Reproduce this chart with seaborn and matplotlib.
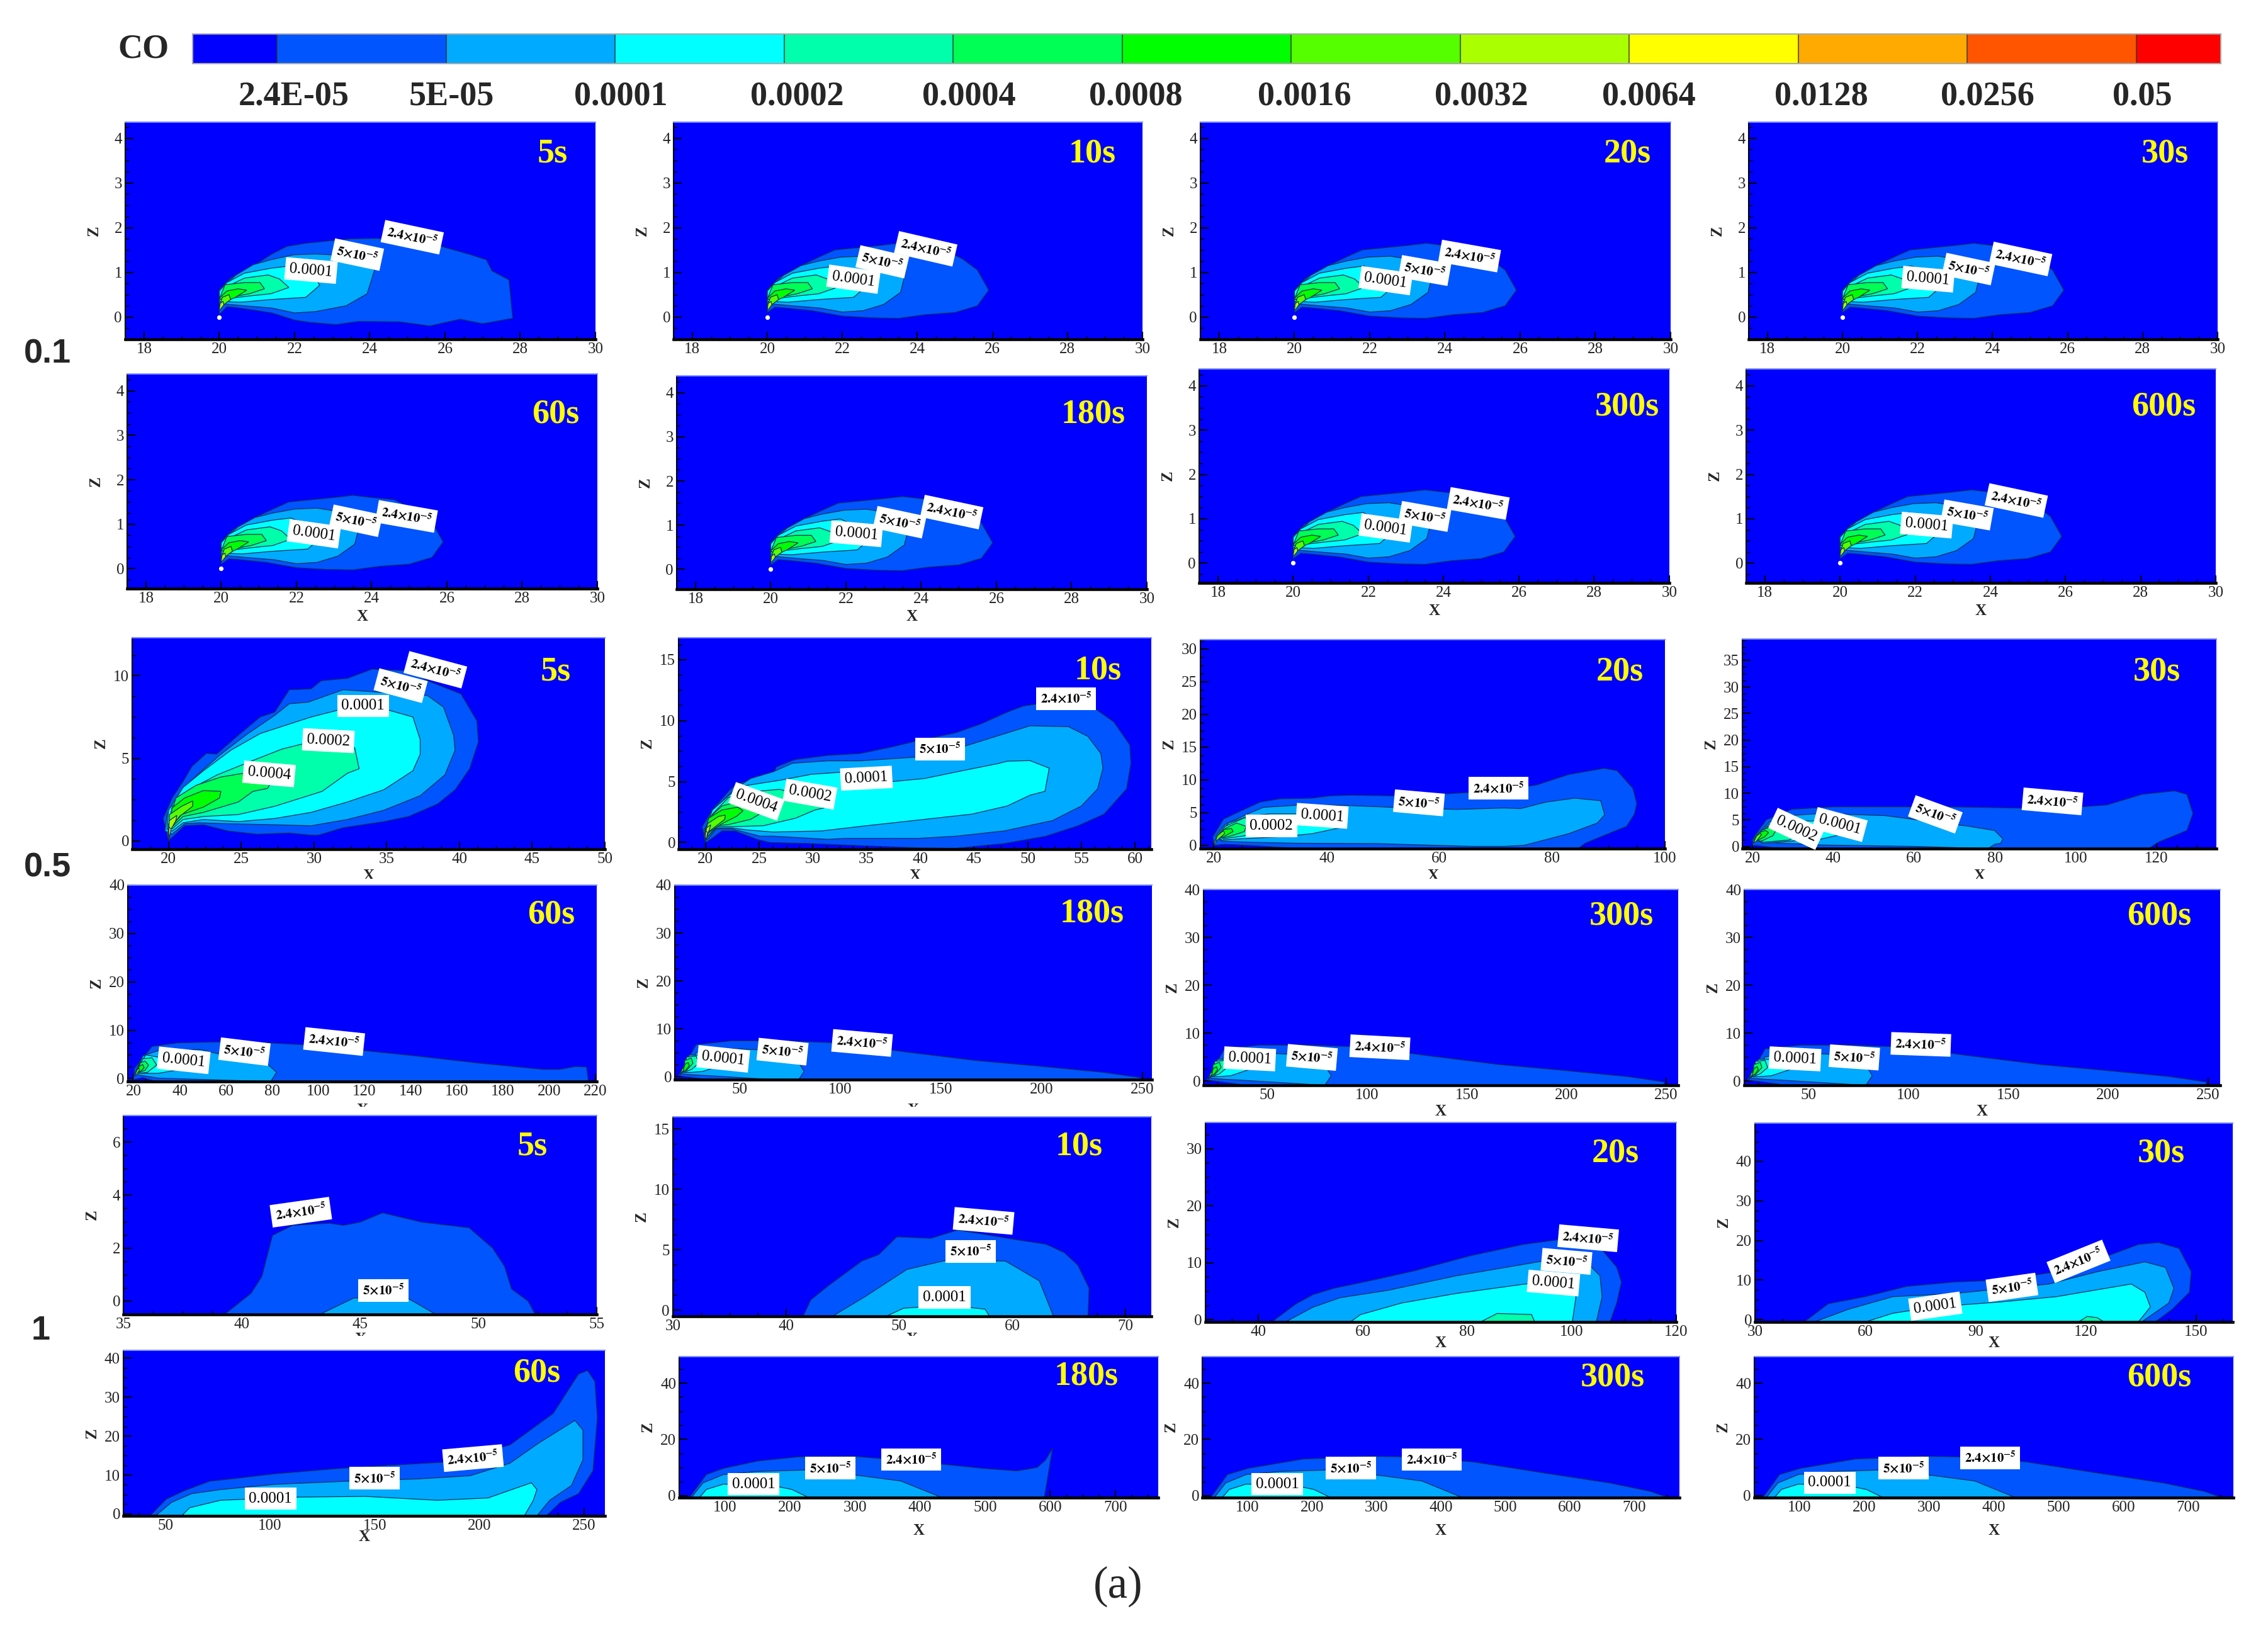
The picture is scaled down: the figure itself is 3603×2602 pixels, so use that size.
import numpy as np
import matplotlib

matplotlib.use("Agg")
import matplotlib.pyplot as plt
from matplotlib.colors import ListedColormap
from matplotlib.ticker import AutoMinorLocator
from matplotlib.transforms import Bbox
import seaborn as sns

# contour levels and colour bar
CO_COLORS = ["#0000ff", "#0055ff", "#00aaff", "#00ffff", "#00ffaa", "#00ff55", "#00ff00",
             "#55ff00", "#aaff00", "#ffff00", "#ffaa00", "#ff5500", "#ff0000"]
CO_CELLS = [0, 1, 1, 2, 2, 3, 3, 4, 4, 5, 5, 6, 6, 7, 7, 8, 8, 9, 9, 10, 10, 11, 11, 12]
CO_LABELS = ["2.4E-05", "5E-05", "0.0001", "0.0002", "0.0004", "0.0008", "0.0016",
             "0.0032", "0.0064", "0.0128", "0.0256", "0.05"]
TIMES = ["5s", "10s", "20s", "30s", "60s", "180s", "300s", "600s"]
ROW_NAMES = ["0.1", "0.5", "1"]

# wind 0.1, near field, shared by both rows
R1_100 = [(20, .35), (20, .58), (20.2, .77), (20.67, .98), (21.37, 1.09), (21.85, 1.14), (22.55, .87),
          (22.67, .71), (22.3, .44), (21.37, .39), (20.55, .33)]
R1_200 = [(20, .39), (20.15, .66), (20.67, .87), (21.3, .94), (21.6, .85), (21.85, .66), (21.37, .52),
          (20.8, .47), (20.3, .42)]
R1_400 = [(20, .4), (20.15, .72), (20.67, .77), (21.08, .77), (21.2, .63), (20.8, .52), (20.3, .44)]
R1_800 = [(20, .42), (20.2, .58), (20.5, .63), (20.73, .6), (20.43, .44), (20.14, .33)]
R1_1600 = [(20, .23), (20.08, .44), (20.26, .5), (20.3, .39), (20.08, .25)]
R1_3200 = [(20, .15), (20.02, .3), (20.1, .35), (20.12, .27), (20.03, .17)]

P1_24 = [(20, .12), (20, .6), (20.3, .87), (20.9, 1.14), (21.4, 1.41), (21.8, 1.58), (22.3, 1.65), (23, 1.71),
         (23.5, 1.75), (24.2, 1.76), (25.6, 1.65), (26.7, 1.39), (27.1, 1.28), (27.25, 1.03), (27.7, .83),
         (27.8, -.03), (27, -.15), (26.4, -.05), (25.6, -.2), (24.8, -.11), (23.7, -.1), (23.1, -.17),
         (22.4, -.12), (22, -.07), (21.4, .09), (20.55, .2), (20.2, .23), (20, .06)]
P1_50 = [(20, .3), (20, .6), (20.43, .93), (20.9, 1.17), (21.37, 1.28), (21.96, 1.39), (22.55, 1.41), (23, 1.39),
         (24.13, 1.06), (23.93, .52), (23.37, .25), (22.55, .12), (22, .09), (21.4, .2), (20.67, .25)]
R1B_24 = [(20, .1), (20, .6), (20.3, .87), (20.9, 1.15), (21.4, 1.35), (21.8, 1.5), (22.4, 1.55), (23, 1.6),
          (23.5, 1.65), (24, 1.6), (24.6, 1.55), (25.2, 1.3), (25.6, 1.05), (25.9, .6), (25.6, .25), (25, .1),
          (24.2, .05), (23.5, -.03), (22.8, -.02), (22, .02), (21.2, .14), (20.5, .2), (20.2, .22)]
R1B_50 = [(20, .3), (20, .6), (20.43, .93), (20.9, 1.15), (21.37, 1.25), (21.96, 1.34), (22.55, 1.36), (23, 1.3),
          (23.7, 1.05), (23.55, .55), (23.1, .28), (22.55, .14), (22, .11), (21.4, .2), (20.67, .25)]

# wind 0.5, 5 s
P9_24 = [(20, .04), (19.63, 1.36), (20.25, 2.6), (21, 3.6), (21.6, 4.5), (22.6, 5.3), (23.3, 5.25), (24.8, 6.4),
         (26.3, 7.5), (27.3, 7.8), (28.3, 9.15), (29.8, 9.2), (30.5, 9.7), (32.3, 9.84), (34, 10.4), (36.5, 10.3),
         (37.8, 9.7), (40.1, 8.9), (41.2, 7.26), (41.3, 6), (40.7, 4.37), (39.7, 3.1), (38.5, 2.24), (36.5, 1.48),
         (34.8, 1.17), (32, .8), (30.3, .35), (29.8, .35), (28.3, .48), (26.1, .41), (24.1, .6), (22.4, .98),
         (21.1, .92), (20.25, .22)]
P9_50 = [(19.75, .6), (19.9, 1.6), (20.9, 3.1), (22.1, 4.1), (23.6, 5.25), (25.3, 6.4), (27.3, 7.6), (28.3, 8.3),
         (29.6, 8.4), (32, 9.15), (34.5, 9), (37.8, 8.8), (38.9, 8.1), (39.6, 6.4), (39.7, 5.5), (39, 4), (37.3, 2.74),
         (34.8, 1.86), (32.3, 1.3), (29.8, .92), (27.3, .98), (24.1, 1.04), (22.1, 1.1), (21.1, 1.04), (20.25, .41)]
P9_100 = [(19.9, .73), (20, 1.86), (21, 3.24), (22.4, 4.25), (24.3, 5.5), (26.3, 6.5), (29.8, 7.5), (31.8, 7.95),
          (34.8, 8), (36.8, 7.5), (37.3, 6.13), (37.3, 5.25), (36.8, 4.25), (34.8, 3.1), (32.3, 2.36), (29.8, 1.73),
          (27.3, 1.36), (24.8, 1.17), (22.4, 1.3), (21, 1.1), (20.25, .6)]
P9_200 = [(20, .85), (20.25, 2.1), (21.4, 3.1), (23.35, 4), (25.8, 4.87), (27.8, 5.56), (29.8, 6), (32.8, 5.63),
          (33.1, 4.37), (32.3, 4.1), (30.55, 3), (27.3, 2.1), (24.8, 1.6), (22.4, 1.48), (21, 1.3), (20.25, .73)]
P9_400 = [(20, .98), (20.5, 2.6), (21.9, 3.37), (23.6, 3.87), (25.3, 4.12), (27.1, 3.6), (26.8, 3.18), (25.8, 3),
          (24.8, 2.36), (22.4, 1.73), (21, 1.48), (20.25, .85)]
P9_800 = [(20, .73), (20.25, 2), (21.1, 2.6), (22.4, 3.05), (23.6, 3), (23.5, 2.6), (22.4, 2.05), (20.9, 1.6), (20.25, .92)]
P9_1600 = [(20, .6), (20.07, 1.6), (20.9, 2.1), (21.66, 2.42), (21.66, 2.1), (20.75, 1.48), (20.2, .85)]
P9_3200 = [(20, .41), (20.05, 1.23), (20.57, 1.55), (20.5, 1.23), (20.1, .6)]
P9_6400 = [(20, .23), (20.03, .85), (20.17, .73), (20.07, .29)]
P9_12800 = [(20, .1), (20.02, .4), (20.08, .3), (20.04, .08)]

# wind 0.5, 10 s
P10_24 = [(20, 0), (19.7, 1.3), (20.65, 2.67), (22.15, 4.2), (22.9, 4.8), (24.8, 5.25), (26.3, 5.6), (26.6, 6.2),
          (28.3, 6.8), (31.4, 7.15), (34.4, 7.3), (37.4, 7.85), (39.5, 8.3), (43.3, 9), (45.7, 9.75), (48.1, 10.7),
          (49.6, 11.2), (52.3, 11.55), (55.9, 11.2), (58, 9.9), (59.5, 8), (59.6, 6.47), (59.2, 4.4), (57.1, 2.33),
          (54.7, 1.38), (51.7, .52), (47.8, -.09), (43.3, -.47), (39.8, -.43), (34.4, -.26), (29.9, -.09), (26, 0),
          (24.8, .26), (22.75, .95), (21.55, .95), (20.2, .09)]
P10_50 = [(19.8, .9), (21, 2.85), (22.75, 4.4), (24.2, 5.25), (26.3, 5.8), (28.1, 6.5), (31.4, 6.7), (34.4, 6.7),
          (39.5, 7), (43.3, 7.67), (46.3, 8.5), (50.2, 9.57), (53.8, 9.5), (55.6, 8.7), (56.8, 7.3), (57, 6.1),
          (56.5, 4.4), (55, 3), (52.3, 1.8), (47.8, .95), (43.3, .52), (39.8, .34), (32.9, .34), (31.4, .26),
          (26.3, .52), (25.1, .52), (22.45, 1.12), (21, 1.12), (20.2, .26)]
P10_100 = [(19.9, .85), (20.65, 2.67), (22.45, 4.05), (23.6, 4.65), (26.9, 5.1), (29.9, 5.6), (32.9, 5.78), (37.4, 5),
           (40.4, 5.25), (43.3, 5.78), (47.2, 6.47), (48.1, 6.67), (50.2, 6.72), (52, 6.1), (51.6, 4.2), (50.2, 3.88),
           (48.1, 3), (44.8, 2.33), (40.4, 1.9), (35, 1.38), (30.8, .95), (26.3, .86), (23.9, 1.03), (22.45, 1.2),
           (21, 1.2), (20.2, .43)]
P10_200 = [(19.95, .8), (20.65, 2.33), (22.15, 3.7), (23.9, 4.14), (26.9, 4.36), (29.9, 3.7), (31.1, 2.85), (30.2, 2.67),
           (28.4, 2), (25.4, 1.38), (22.45, 1.3), (21, 1.3), (20.2, .5)]
P10_400 = [(20, .85), (20.5, 2.15), (21.55, 3), (23, 3.36), (25.1, 3), (25.7, 2.67), (24.2, 1.9), (22.15, 1.47),
           (21, 1.38), (20.2, .7)]
P10_800 = [(20, .9), (20.3, 2), (21.55, 2.67), (23, 2.9), (23.5, 2.6), (22.9, 2.15), (21.55, 1.55), (20.35, .86)]
P10_1600 = [(20, .7), (20.2, 1.55), (21.25, 2.15), (21.85, 2.25), (21.8, 1.9), (20.65, 1.12)]
P10_3200 = [(20, .4), (20.1, 1.2), (20.5, 1.45), (20.35, 1.03), (20.1, .35)]
P10_6400 = [(20, .2), (20.02, .9), (20.2, .85), (20.1, .25)]
P10_12800 = [(20, .05), (20.01, .4), (20.08, .3), (20.03, .05)]

# wind 0.5, 20 s
P11_24 = [(20, 0), (19.8, 1.3), (21.7, 4), (25.4, 5.5), (28.2, 6.6), (31.7, 7.1), (37.4, 7.2), (40.6, 7.55), (44.3, 7.65),
          (51.6, 7.55), (60.1, 7.8), (65.8, 8.1), (74.4, 8.85), (77.2, 9.2), (82.9, 10.8), (89.2, 11.75), (91.5, 11.4),
          (94.3, 8.7), (95, 6.4), (94.6, 4.8), (93.2, 2.9), (88.6, 1.3), (85.8, .3), (84.6, -.5), (37.4, -.5),
          (31.7, -.3), (26, 0), (22, .16)]
P11_50 = [(20.3, 1.45), (22, 3.2), (26, 4.8), (28.8, 5.8), (34.5, 6.1), (43, 6.1), (51.6, 5.8), (63, 5.47), (71.5, 5.7),
          (74.4, 5.6), (78.9, 6.6), (84, 7.2), (88.6, 6.8), (89.3, 4.66), (88, 3.4), (82.9, 1.77), (75, 0), (71.5, -.16),
          (65.8, -.16), (48.8, .26), (34.5, .32), (26, .48), (21.4, .64)]
P11_100 = [(20.6, 1.45), (22.6, 3.4), (26.3, 4.5), (30, 4.8), (35.7, 4.8), (39.6, 4), (43.6, 2.9), (37.4, 1.77),
           (31.7, 1.3), (24.8, 1), (21.4, .8)]
P11_200 = [(20.7, 1.45), (22, 2.9), (25.4, 4.2), (28.8, 3.4), (30, 2.57), (25.4, 1.45), (21.7, 1)]
P11_400 = [(21, 1.45), (22, 2.57), (24, 3.4), (25.7, 2.9), (25.4, 2.1), (23.1, 1.45), (21.4, 1.1)]
P11_800 = [(20.75, 1.3), (21.7, 2.4), (23.1, 2.57), (23.4, 2.1), (21.7, 1.3)]
P11_1600 = [(20.1, .32), (20.6, 1.45), (21.7, 2.25), (21.9, 1.77), (20.6, .8)]
P11_3200 = [(20, .1), (20.2, .8), (20.4, .9), (20.3, .3)]

# wind 0.5, 30 s
P12_24 = [(20, .2), (20, 1.4), (23.4, 5), (29.8, 7), (40, 7.45), (52.8, 7.45), (68.7, 7.45), (87, 7.2), (100.5, 7.4),
          (107.7, 7.8), (116.4, 9.8), (124.4, 10.45), (127.5, 9.8), (129, 6.2), (127.5, 3), (120.4, .8), (118, -.4),
          (44.9, -.4), (25, -.2), (21, .2)]
P12_50 = [(20.2, 1.4), (24.2, 4.6), (29, 5.8), (37, 6.2), (52.8, 5.8), (60.8, 5), (73.5, 3.8), (79.9, 3), (82, 1.4),
          (81.4, .6), (79.9, .4), (78.3, -.4), (60.8, 0), (37, .28), (22.6, .8)]
P12_100 = [(20.6, 1.4), (24.2, 4.2), (29, 4.8), (36, 4.8), (41.7, 3), (44, 2.6), (37, 1.4), (29, 1), (22.6, .6)]
P12_200 = [(21, 1.4), (23.4, 3.6), (25.8, 4.2), (31.4, 2), (29, 1.2), (22.6, .8)]
P12_400 = [(20.6, 1.2), (22.2, 3), (24.2, 3.6), (25.8, 3), (25, 2), (22.2, 1)]
P12_800 = [(20.4, 1), (21.6, 2.6), (23.2, 3), (24, 2.6), (23, 1.8), (21.4, 1.2)]
P12_1600 = [(20.2, .6), (21, 2), (22, 2.5), (22.2, 2.2), (21, 1)]

# wind 0.5, 60 s
P13_24 = [(20, -.2), (20.4, 2.1), (28, 6.65), (39.2, 7.4), (58.6, 7.6), (78, 7.4), (97.5, 6.9), (119.7, 5.8), (142, 4.7),
          (169.7, 3.2), (197.5, 1.9), (204.4, 1.9), (211.4, 2.5), (216.2, 2.4), (217, -.6), (30, -.6), (24, .2)]
P13_50 = [(20.4, .9), (24, 4.7), (30.8, 5.8), (49, 6), (58.6, 4.9), (78, 3), (81.9, 1.3), (79.4, -.6), (30.8, .1), (24, .6)]
P13_100 = [(21, 1.3), (25.3, 4.9), (32.2, 4.3), (40.5, 1.9), (30.8, 1.1), (23.2, 1.1)]
P13_200 = [(21, 1.3), (24, 4.1), (28, 4.3), (30, 2.8), (26, 1.3), (22, 1.1)]
P13_400 = [(21.5, 1.5), (23, 3.3), (25, 3.6), (26.5, 2.8), (25, 1.7), (22.5, 1.3)]
P13_800 = [(21.3, 1.3), (22.5, 2.6), (24, 2.9), (24.6, 2.2), (23, 1.5)]
P13_1600 = [(20.5, .5), (21.5, 1.8), (22.3, 2.2), (22.5, 1.7), (21.3, .8)]

# wind 0.5, 180 s to 600 s
R4_24 = [(19.6, .2), (28.4, 6.7), (46, 7.5), (71.6, 7.5), (97, 7.1), (132, 5.2), (167, 3.4), (199, 2.2), (231, .9),
         (249, -.2), (249, -.9), (39.6, -.9), (23.6, 0)]
R4_50 = [(21.2, .6), (28.4, 5), (39.6, 6), (60.4, 5.6), (79.5, 2.8), (82, 1.1), (78.8, -.9), (39.6, .1), (26.8, .4)]
R4_100 = [(22, .9), (25, 4.5), (31.6, 4.5), (41, 2.4), (31.6, 1.1), (25, .9)]
R4_200 = [(22.3, .9), (23.6, 4.1), (28.4, 4.3), (29.7, 2.8), (26, 1.5), (23.6, 1.1)]
R4_400 = [(22.3, 1.2), (22.8, 3.4), (26, 3.9), (26.8, 2.8), (23.6, 1.3)]
R4_800 = [(21.8, 1), (22.8, 2.6), (24.5, 3), (25, 2.3), (23.3, 1.4)]
R4_1600 = [(20.3, .2), (21.3, 1.5), (22.2, 2), (22.3, 1.5), (21, .7)]

# wind 1
P17_24 = [(39.27, -.5), (40.4, .3), (40.85, .93), (41.3, 2.48), (42.15, 2.86), (43.7, 2.94), (44.3, 2.86), (45, 2.98),
          (45.95, 3.33), (47.6, 2.98), (49.6, 2.77), (50.6, 2), (51.1, 1.32), (51.4, .46), (52.1, 0), (52.4, -.5)]
P17_50 = [(43.3, -.5), (44.74, .12), (47, .12), (48.2, -.5)]
P18_24 = [(41.5, -.5), (42.2, .87), (43.7, 2), (46.7, 4.07), (48.2, 4.6), (49.8, 6.07), (52.8, 5.95), (55.2, 6.64),
          (60.6, 5.8), (63, 5.46), (64.6, 4.77), (65.8, 3.73), (66.8, 1.82), (66.7, -.5)]
P18_50 = [(44.1, -.5), (47, 1.13), (50.7, 3.38), (54.3, 4.16), (59.4, 4.07), (62.4, 2.43), (63.65, -.5)]
P18_100 = [(48.85, -.5), (50.4, .17), (54.3, .43), (57.6, .09), (58, -.5)]
P19_24 = [(42.6, -.4), (47.2, 2.76), (50.5, 4.4), (54.4, 5.5), (62.2, 7), (70, 8.6), (80.5, 11.2), (90.7, 13.2),
          (98.8, 14.2), (105.4, 12.7), (108.6, 9.2), (109.5, 6.6), (108.6, 2.9), (107.3, -.4)]
P19_50 = [(45.2, -.4), (50.5, 2.2), (55.7, 3.86), (64.8, 5.15), (77.9, 7.7), (91, 9.74), (101.4, 11.4), (105.4, 7.7),
          (105.8, 4), (104.7, -.4)]
P19_100 = [(57.6, -.4), (59.6, .9), (67.5, 2.94), (77.9, 4.6), (91, 6.25), (100.1, 7), (100.8, 4), (100.1, -.4)]
P19_200 = [(82.5, -.4), (85.75, 1.1), (92.3, .9), (92.9, -.4)]
P20_24 = [(43.4, -.6), (49.9, 4), (60, 5.8), (71.2, 8.4), (84.2, 9.5), (97.2, 10), (112, 12.1), (126.8, 16.4), (134.3, 19),
          (139.8, 19.5), (145.4, 18), (148.7, 12.1), (148.2, 6.9), (143.5, 2.6), (138.9, -.6)]
P20_50 = [(46.1, -.6), (55.4, 2.6), (67.5, 5.8), (84.2, 6.6), (110, 9), (123.1, 12.1), (136.1, 14.6), (141.7, 13.2),
          (144, 7.9), (142.6, 4.2), (135.2, -.6)]
P20_100 = [(60, -.6), (67.5, 1.6), (78.6, 3.2), (97.2, 4.5), (112, 5.8), (132.4, 9), (136.1, 6.9), (137.6, 3.2), (134.3, -.6)]
P20_200 = [(118, -.6), (120.4, .8), (123.1, .5), (125, -.6)]
P21_24 = [(42.7, -.5), (50.5, 3.8), (59.2, 6), (71.2, 8.4), (85, 9.2), (102.3, 10.3), (133.4, 11.7), (157.6, 12.5),
          (183.5, 13.3), (214.6, 17.7), (235.3, 25.8), (247.4, 35.9), (251.7, 36.8), (255.2, 34), (256.4, 24.7),
          (254.3, 11.1), (247.4, 5.2), (238.8, 3), (231.9, -.5)]
P21_50 = [(45.3, -.5), (53.1, 3), (62.6, 5.2), (76.4, 6.25), (102.3, 7.6), (136.9, 8.4), (171.4, 9), (195.6, 9.8),
          (214.6, 13), (228.4, 18.2), (245.7, 24), (249.5, 21.5), (249.5, 13.9), (244, 7.3), (233.6, 3.5), (227.5, -.5)]
P21_100 = [(57.8, -.5), (61.7, 1.6), (76.4, 3.5), (111, 4.3), (145.5, 4.5), (180, 3.5), (204.2, 4.1), (211, 5.4),
           (224.9, 8), (227.5, 6.25), (225.8, 3.5), (221.5, -.5)]
P22_24 = [(45.5, -.7), (71.7, 7.5), (98, 9.7), (150.4, 12.3), (213, 13.8), (297, 14), (350, 13), (433.6, 11.2),
          (496.5, 9.7), (549, 8.8), (580, 10), (593, 12.7), (603.5, 16.8), (599, 10.4), (591, -.7)]
R6_24 = [(43, -.7), (69, 7.5), (101, 9.7), (186, 13), (291.5, 14), (344, 13.8), (450, 12), (556, 8.2), (662, 4.5),
         (725.4, 1.5), (752, -.7)]
R6_50 = [(48.6, -.7), (66.4, 4.5), (98, 7.5), (150.4, 8.6), (224, 9.1), (308, 7.1), (370.6, 5.2), (433.6, -.7)]
R6_100 = [(61, -.7), (71.7, 2.2), (98, 4.1), (171, 3.7), (203, 2.2), (229, -.7)]

X_R1 = [18, 20, 22, 24, 26, 28, 30]
Z_R1 = [0, 1, 2, 3, 4]
Z_P14 = [0, 10, 20, 30, 40]
X_W = [50, 100, 150, 200, 250]
X_K = [100, 200, 300, 400, 500, 600, 700]
Z_K = [0, 20, 40]

R1_NEAR = [R1_100, R1_200, R1_400, R1_800, R1_1600, R1_3200]
FIRST = [P1_24, P1_50] + R1_NEAR
LATER = [R1B_24, R1B_50] + R1_NEAR
R4 = [R4_24, R4_50, R4_100, R4_200, R4_400, R4_800, R4_1600]
R6 = [R6_24, R6_50, R6_100]

W, H = 3603, 2602
S = W / 1568

# left, right, top, bottom px / x range / z range / ticks / contours / time / time centre / x label y, clip y
PANELS = [
    (199, 946, 194, 539, 17.5, 30, -.5, 4.36, X_R1, Z_R1, FIRST, 0, (382, 105), 587, 573),
    (1070, 1815, 194, 539, 17.5, 30, -.5, 4.36, X_R1, Z_R1, LATER, 1, (755, 105), 587, 573),
    (1907, 2654, 194, 539, 17.5, 30, -.5, 4.36, X_R1, Z_R1, LATER, 2, (1125, 105), 587, 573),
    (2778, 3523, 194, 539, 17.5, 30, -.5, 4.36, X_R1, Z_R1, LATER, 3, (1497, 105), 587, 573),
    (202, 949, 594, 935, 17.5, 30, -.45, 4.38, X_R1, Z_R1, LATER, 4, (384, 285), 979, None),
    (1075, 1822, 597, 936, 17.5, 30, -.45, 4.38, X_R1, Z_R1, LATER, 5, (756, 285), 979, None),
    (1905, 2652, 586, 926, 17.5, 30, -.45, 4.38, X_R1, Z_R1, LATER, 6, (1125, 280), 970, None),
    (2774, 3520, 586, 926, 17.5, 30, -.45, 4.38, X_R1, Z_R1, LATER, 7, (1496, 280), 970, None),
    (210, 961, 1013, 1349, 17.5, 50, -.5, 12.3, list(range(20, 51, 5)), [0, 5, 10],
     [P9_24, P9_50, P9_100, P9_200, P9_400, P9_800, P9_1600, P9_3200, P9_6400, P9_12800], 0, (384, 463), 1391, 1396),
    (1078, 1829, 1013, 1349, 17.5, 61.5, -.55, 16.8, list(range(20, 61, 5)), [0, 5, 10, 15],
     [P10_24, P10_50, P10_100, P10_200, P10_400, P10_800, P10_1600, P10_3200, P10_6400, P10_12800], 1, (759, 462), 1391, 1396),
    (1907, 2645, 1016, 1348, 17.6, 100, -.5, 31.4, [20, 40, 60, 80, 100], list(range(0, 31, 5)),
     [P11_24, P11_50, P11_100, P11_200, P11_400, P11_800, P11_1600, P11_3200], 2, (1120, 463), 1391, 1396),
    (2768, 3521, 1015, 1348, 17.5, 134.8, -.4, 39, [20, 40, 60, 80, 100, 120], list(range(0, 36, 5)),
     [P12_24, P12_50, P12_100, P12_200, P12_400, P12_800, P12_1600], 3, (1491, 463), 1391, 1396),
    (203, 948, 1406, 1718, 17.5, 220.6, -.6, 39.4, list(range(20, 221, 20)), Z_P14,
     [P13_24, P13_50, P13_100, P13_200, P13_400, P13_800, P13_1600], 4, (381, 631), 1764, 1758),
    (1072, 1830, 1406, 1715, 17.8, 254.7, -.6, 39.5, X_W, Z_P14, R4, 5, (755, 630), 1764, 1758),
    (1912, 2666, 1413, 1724, 18, 256, -.9, 40, X_W, Z_P14, R4, 6, (1121, 632), 1766, None),
    (2771, 3527, 1413, 1724, 18, 256, -.9, 40, X_W, Z_P14, R4, 7, (1493, 632), 1766, None),
    (196, 948, 1772, 2088, 35, 55, -.5, 7, [35, 40, 45, 50, 55], [0, 2, 4, 6], [P17_24, P17_50], 0, (368, 791), 2128, 2122),
    (1069, 1829, 1774, 2091, 30, 72.3, -.5, 16, [30, 40, 50, 60, 70], [0, 5, 10, 15], [P18_24, P18_50, P18_100], 1, (746, 791), 2128, 2122),
    (1915, 2663, 1783, 2100, 29.9, 120, -.4, 34.6, list(range(40, 121, 20)), [0, 10, 20, 30],
     [P19_24, P19_50, P19_100, P19_200], 2, (1117, 796), 2134, None),
    (2788, 3547, 1784, 2100, 30, 160, -.6, 49.7, [30, 60, 90, 120, 150], [0, 10, 20, 30, 40],
     [P20_24, P20_50, P20_100, P20_200], 3, (1494, 796), 2134, None),
    (196, 961, 2145, 2408, 30, 260, -.5, 42, X_W, Z_P14, [P21_24, P21_50, P21_100], 4, (371, 948), 2441, None),
    (1079, 1840, 2155, 2379, 30, 766, -.7, 49.4, X_K, Z_K, [P22_24, R6_50, R6_100], 5, (751, 950), 2431, None),
    (1910, 2668, 2155, 2379, 30, 770, -.7, 49.4, X_K, Z_K, R6, 6, (1115, 951), 2431, None),
    (2787, 3548, 2155, 2379, 30, 770, -.7, 49.4, X_K, Z_K, R6, 7, (1493, 951), 2431, None),
]

L24 = r"$\mathbf{2.4{\times}10^{-5}}$"
L50 = r"$\mathbf{5{\times}10^{-5}}$"
# contour labels: text, centre x, centre y (px in the shrunk view), rotation
CONTOUR_LABELS = [
    [(L24, 285, 164, -12), (L50, 247, 176, -12), ("0.0001", 215, 187, -5)],
    [(L24, 640, 172, -13), (L50, 610, 181, -13), ("0.0001", 590, 193, -8)],
    [(L24, 1016, 177, -10), (L50, 985, 187, -10), ("0.0001", 958, 194, -8)],
    [(L24, 1397, 179, -12), (L50, 1361, 186, -12), ("0.0001", 1333, 193, -5)],
    [(L24, 281, 357, -10), (L50, 246, 360, -12), ("0.0001", 217, 369, -8)],
    [(L24, 658, 354, -12), (L50, 622, 361, -12), ("0.0001", 592, 369, -5)],
    [(L24, 1022, 348, -10), (L50, 985, 357, -10), ("0.0001", 958, 365, -8)],
    [(L24, 1394, 346, -12), (L50, 1360, 356, -10), ("0.0001", 1332, 363, -5)],
    [(L24, 301, 463, -15), (L50, 277, 474, -15), ("0.0001", 251, 488, 0), ("0.0002", 227, 512, -3), ("0.0004", 186, 535, -5)],
    [(L24, 737, 483, 0), (L50, 650, 518, 0), ("0.0001", 599, 538, 3), ("0.0002", 560, 549, -10), ("0.0004", 523, 554, -20)],
    [(L24, 1036, 545, 0), (L50, 981, 555, -5), ("0.0001", 914, 564, -4), ("0.0002", 879, 571, 0)],
    [(L24, 1419, 554, -5), (L50, 1338, 563, -20), ("0.0001", 1272, 570, -15), ("0.0002", 1242, 573, -25)],
    [(L24, 231, 720, -6), (L50, 169, 727, -7), ("0.0001", 127, 733, -6)],
    [(L24, 596, 721, -5), (L50, 541, 727, -6), ("0.0001", 500, 732, -6)],
    [(L24, 954, 724, -3), (L50, 907, 731, -5), ("0.0001", 864, 732, -3)],
    [(L24, 1328, 722, -2), (L50, 1282, 731, -4), ("0.0001", 1241, 732, -3)],
    [(L24, 208, 838, 8), (L50, 265, 892, 0)],
    [(L24, 680, 844, -5), (L50, 671, 865, 0), ("0.0001", 653, 897, 0)],
    [(L24, 1098, 856, -5), (L50, 1083, 872, -5), ("0.0001", 1074, 887, -5)],
    [(L24, 1437, 872, 22), (L50, 1391, 890, 8), ("0.0001", 1338, 903, 8)],
    [(L24, 327, 1008, 5), (L50, 259, 1022, 0), ("0.0001", 187, 1036, 0)],
    [(L24, 630, 1009, 0), (L50, 574, 1015, 0), ("0.0001", 521, 1026, 0)],
    [(L24, 990, 1009, 0), (L50, 934, 1015, 0), ("0.0001", 883, 1026, 0)],
    [(L24, 1376, 1008, 0), (L50, 1316, 1015, 0), ("0.0001", 1265, 1025, 0)],
]
CO_LABEL_X = [203, 312, 429, 551, 670, 785, 902, 1024, 1140, 1259, 1374, 1481]
ROW_POS = [(33, 245), (33, 600), (28, 920)]

sns.set_theme(style="ticks")
plt.rcParams["font.family"] = ["Liberation Serif", "DejaVu Serif"]
plt.rcParams["mathtext.fontset"] = "stix"


def fx(px):
    return px / W


def fy(py):
    return 1 - py / H


fig = plt.figure(figsize=(W / 300, H / 300), dpi=300, facecolor="white")

# colour bar
cax = fig.add_axes([fx(306), fy(101), fx(3528 - 306), (101 - 54) / H])
sns.heatmap(np.array([CO_CELLS]), cmap=ListedColormap(CO_COLORS), vmin=-.5, vmax=12.5, cbar=False,
            xticklabels=False, yticklabels=False, ax=cax)
cax.vlines(range(1, 24, 2), 0, 1, color="#333333", lw=.5, alpha=.7)
for s in cax.spines.values():
    s.set_visible(True)
    s.set_color("#aaaaaa")
    s.set_linewidth(.5)

fig.text(fx(99 * S), fy(34 * S), "CO", fontsize=13, fontweight="bold", ha="center", va="center")
for name, px in zip(CO_LABELS, CO_LABEL_X):
    fig.text(fx(px * S), fy(67 * S), name, fontsize=13, fontweight="bold", ha="center", va="center")

for panel, labels in zip(PANELS, CONTOUR_LABELS):
    left, right, top, bottom, x0, x1, z0, z1, xt, zt, outlines, t, tpos, xlab_y, clip_y = panel
    ax = fig.add_axes([fx(left), fy(bottom), (right - left) / W, (bottom - top) / H])
    ax.set_facecolor(CO_COLORS[0])
    for i, outline in enumerate(outlines):
        xs, zs = zip(*outline)
        ax.fill(xs, zs, fc=CO_COLORS[i + 1], ec="#10305a", lw=.3, zorder=1 + i * .05)
    if z1 < 5:
        sns.scatterplot(x=[20], y=[0], color="white", s=3, linewidth=0, ax=ax, zorder=2)
    ax.set_xlim(x0, x1)
    ax.set_ylim(z0, z1)
    ax.set_xticks(xt)
    ax.set_yticks(zt)
    ax.xaxis.set_minor_locator(AutoMinorLocator(4))
    ax.yaxis.set_minor_locator(AutoMinorLocator(4))
    ax.tick_params(which="major", direction="in", length=3, width=.5, color="black", labelsize=6,
                   labelcolor="#222222", pad=1.2)
    ax.tick_params(which="minor", direction="in", length=1.5, width=.35, color="black")
    ax.set_xlabel("")
    ax.set_ylabel("")
    ax.grid(False)
    sns.despine(ax=ax, top=False)
    ax.spines["top"].set_linewidth(.5)
    ax.spines["top"].set_color("#7f8fff")
    ax.spines["bottom"].set_linewidth(1.1)
    ax.spines["bottom"].set_color("black")
    ax.spines["left"].set_linewidth(.5)
    ax.spines["left"].set_color("black")

    fig.text(fx(tpos[0] * S), fy((tpos[1] + 1.5) * S), TIMES[t], color="#ffff00", fontsize=13, fontweight="bold",
             ha="center", va="center", zorder=5)
    for text, cx, cy, rot in labels:
        bold = text.startswith("$")
        fig.text(fx(cx * S), fy(cy * S), text, fontsize=5 if bold else 6, rotation=rot, rotation_mode="anchor",
                 ha="center", va="center", color="black", zorder=5,
                 bbox=dict(fc="white", ec="none", pad=1.6))
    xlab = fig.text(fx((left + right) / 2), fy(xlab_y), "X", fontsize=6, fontweight="bold",
                    ha="center", va="center", zorder=1)
    if clip_y is not None:
        xlab.set_clip_box(Bbox([[0, H - clip_y], [W, H]]))
        xlab.set_clip_on(True)
    fig.text(fx(left - 50), fy((top + bottom) / 2), "Z", fontsize=6, fontweight="bold", rotation=90,
             ha="center", va="center")

for name, (px, py) in zip(ROW_NAMES, ROW_POS):
    fig.text(fx(px * S), fy(py * S), name, fontsize=13, fontweight="bold", family="Liberation Sans",
             ha="center", va="center")
fig.text(fx(773 * S), fy(1097 * S), "(a)", fontsize=17, ha="center", va="center")

fig.savefig("out.png", dpi=300)
plt.close(fig)
